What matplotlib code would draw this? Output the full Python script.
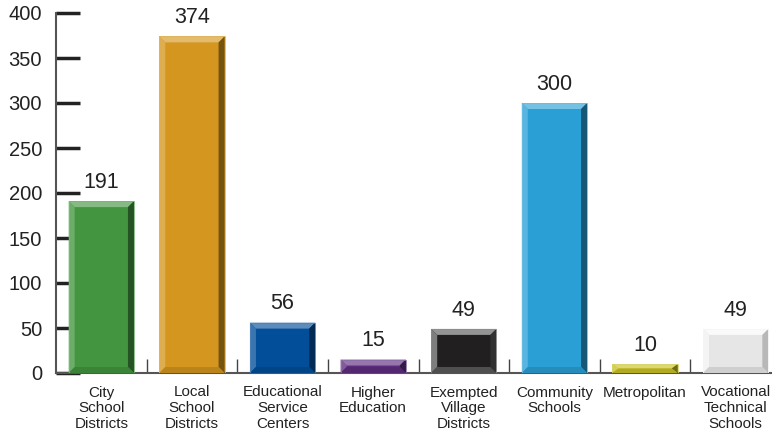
import matplotlib
matplotlib.use("Agg")
import matplotlib.pyplot as plt
from matplotlib.patches import Polygon
import matplotlib.colors as mcolors
import numpy as np

categories = ["City\nSchool\nDistricts", "Local\nSchool\nDistricts", "Educational\nService\nCenters",
              "Higher\nEducation", "Exempted\nVillage\nDistricts", "Community\nSchools",
              "Metropolitan", "Vocational\nTechnical\nSchools"]
values = [191, 374, 56, 15, 49, 300, 10, 49]
colors = ["#43963F", "#D4961F", "#024E98", "#5E2D80", "#221F20", "#2A9FD6", "#C9C227", "#E6E6E6"]
bevel_colors = [None, None, None, None, "#5A5A5A", None, None, "#F2F2F2"]

plt.rcParams['font.family'] = ['Liberation Sans', 'DejaVu Sans']

fig = plt.figure(figsize=(7.72, 4.34), dpi=100)
ax = fig.add_axes([56/772, 61/434, 725/772, 360/434])
x = np.arange(len(values))
bw = 0.72
ax.set_xlim(-0.5, len(values) - 0.5)
ax.set_ylim(0, 400)

bars = ax.bar(x, values, width=bw, color=colors, zorder=2)

def shade(c, f):
    r, g, b = mcolors.to_rgb(c)
    if f > 0:
        return (r + (1 - r) * f, g + (1 - g) * f, b + (1 - b) * f)
    return (r * (1 + f), g * (1 + f), b * (1 + f))

pxx = 725 / len(values)
pxy = 360 / 400
for i, rect in enumerate(bars):
    x0 = rect.get_x(); x1 = x0 + rect.get_width()
    y0 = 0; y1 = rect.get_height()
    c = colors[i]
    dx = 6 / pxx
    dy = min(6 / pxy, y1 / 2)
    base = bevel_colors[i] if bevel_colors[i] else c
    top = shade(base, 0.35)
    left = shade(base, 0.22)
    right = shade(base, -0.45)
    bottom = shade(base, -0.12)
    if i == 7:
        top = "#FAFAFA"; left = "#F4F4F4"; right = "#B8B8B8"; bottom = "#CFCFCF"
    polys = [
        ([(x0, y1), (x1, y1), (x1 - dx, y1 - dy), (x0 + dx, y1 - dy)], top),
        ([(x0, y0), (x0, y1), (x0 + dx, y1 - dy), (x0 + dx, y0 + dy)], left),
        ([(x1, y0), (x1, y1), (x1 - dx, y1 - dy), (x1 - dx, y0 + dy)], right),
        ([(x0, y0), (x1, y0), (x1 - dx, y0 + dy), (x0 + dx, y0 + dy)], bottom),
    ]
    for pts, col in polys:
        ax.add_patch(Polygon(pts, closed=True, facecolor=col, edgecolor='none', zorder=3))
    ax.add_patch(Polygon([(x0, y0), (x0, y1), (x1, y1), (x1, y0)], closed=True, fill=False,
                         edgecolor=shade(base, 0.3), linewidth=0.6, zorder=4))
    ax.annotate(str(values[i]), (rect.get_x() + rect.get_width() / 2, y1), xytext=(0, 6),
                textcoords='offset points', ha='center', va='bottom', fontsize=15.5, color='#222222')

for s in ['top', 'right']:
    ax.spines[s].set_visible(False)
ax.spines['left'].set_color('#555555')
ax.spines['left'].set_linewidth(1.5)
ax.spines['bottom'].set_color('#555555')
ax.spines['bottom'].set_linewidth(1.5)
ax.spines['left'].set_zorder(5)

ax.set_yticks(np.arange(0, 401, 50))
ax.tick_params(axis='y', direction='in', length=17, width=2.5, color='#222222', labelsize=14.5,
               pad=10, labelcolor='#222222')
ax.set_xticks(x)
ax.set_xticklabels(categories, fontsize=11, color='#222222', linespacing=1.15)
ax.tick_params(axis='x', length=0, pad=9)
ax.set_xticks(np.arange(0.5, len(values) - 0.5, 1), minor=True)
ax.tick_params(axis='x', which='minor', direction='in', length=10, width=1, color='#444444')

fig.savefig("out.png", dpi=100)
